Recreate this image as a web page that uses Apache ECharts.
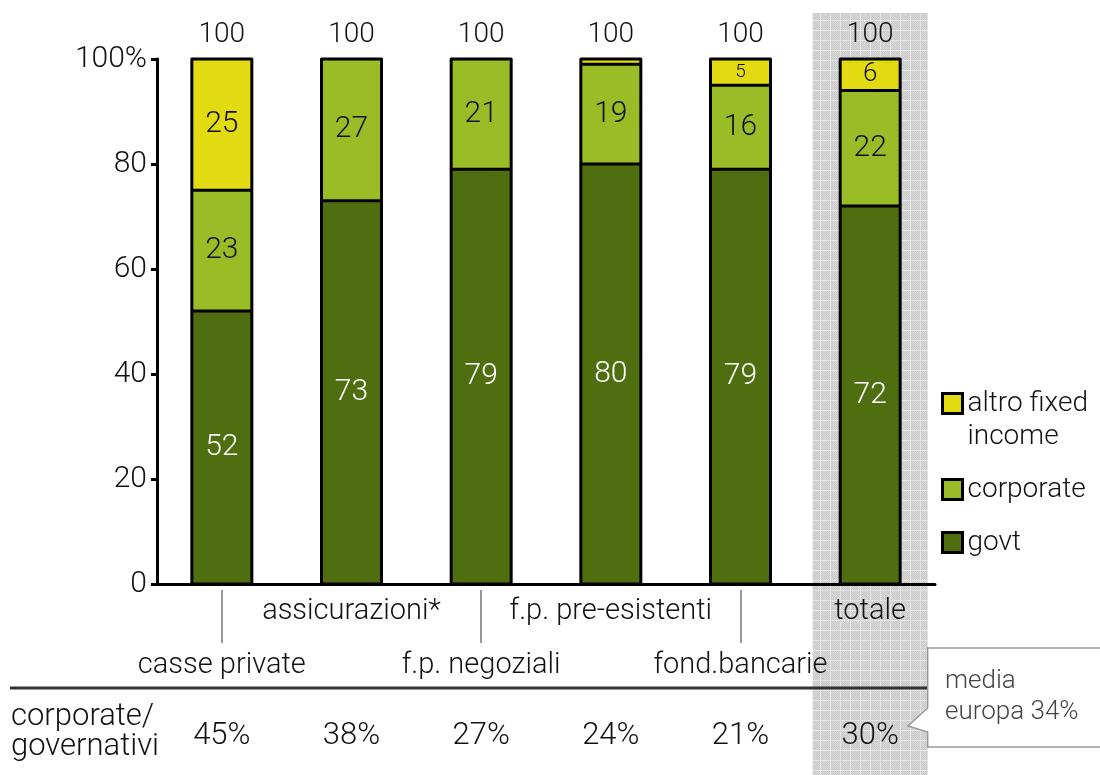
<!DOCTYPE html>
<html>
<head>
<meta charset="utf-8">
<script src="https://cdn.jsdelivr.net/npm/echarts@6/dist/echarts.min.js"></script>
<style>
  html, body { margin: 0; padding: 0; background: #fff; }
  #chart { width: 1100px; height: 775px; }
</style>
</head>
<body>
<div id="chart"></div>
<script>
// Composition of fixed-income holdings by investor type (% of total)
const categories = ['casse private', 'assicurazioni*', 'f.p. negoziali', 'f.p. pre-esistenti', 'fond.bancarie', 'totale'];
const govt       = [52, 73, 79, 80, 79, 72];
const corporate  = [23, 27, 21, 19, 16, 22];
const altro      = [25, 0, 0, 1, 5, 6];
const totals     = [100, 100, 100, 100, 100, 100];
// corporate / governativi ratio row
const ratioLabels = ['45%', '38%', '27%', '24%', '21%', '30%'];
const yTicks = [0, 20, 40, 60, 80, 100];

const FONT = 'Roboto';
const W = 300;
const GOVT_C = '#4f6e10';
const CORP_C = '#9abd27';
const ALTRO_C = '#e3db12';
const BAR_W = 60;

// textured grey fill for the "totale" highlight band
function makePattern() {
  const c = document.createElement('canvas');
  c.width = 10; c.height = 10;
  const g = c.getContext('2d');
  g.fillStyle = '#d8d8d8';
  g.fillRect(0, 0, 10, 10);
  for (let y = 0; y < 10; y++) {
    for (let x = 0; x < 10; x++) {
      if ((x + y) % 2 === 0) { g.fillStyle = '#cacaca'; g.fillRect(x, y, 1, 1); }
    }
  }
  g.fillStyle = '#e4e4e4';
  g.fillRect(0, 0, 10, 1);
  g.fillRect(0, 0, 1, 10);
  return c;
}

const chart = echarts.init(document.getElementById('chart'), null, { renderer: 'canvas' });

const segLabel = (color) => ({
  show: true,
  position: 'inside',
  color: color,
  fontFamily: FONT,
  fontWeight: W,
  fontSize: 30
});

const smallSeg = v => ({
  value: v,
  label: { show: v >= 5, fontSize: v < 6 ? 19 : (v < 10 ? 26 : 30) }
});

// black outlines of each stacked column, one stroke per boundary
function renderOutline(params, api) {
  const i = api.value(0);
  const parts = [api.value(1), api.value(2), api.value(3)];
  const total = parts[0] + parts[1] + parts[2];
  const base = api.coord([i, 0]);
  const top = api.coord([i, total]);
  const half = BAR_W / 2;
  const stroke = { stroke: '#000', lineWidth: 3, fill: null, lineJoin: 'round' };
  const children = [{
    type: 'rect',
    shape: { x: base[0] - half, y: top[1], width: BAR_W, height: base[1] - top[1] },
    style: stroke
  }];
  let cum = 0;
  for (let k = 0; k < parts.length - 1; k++) {
    cum += parts[k];
    if (parts[k] > 0 && cum < total) {
      const p = api.coord([i, cum]);
      children.push({
        type: 'line',
        shape: { x1: base[0] - half, y1: p[1], x2: base[0] + half, y2: p[1] },
        style: { stroke: '#000', lineWidth: 3 }
      });
    }
  }
  return { type: 'group', children: children };
}

chart.setOption({
  animation: false,
  grid: { left: 157, right: 165, top: 59, bottom: 191, containLabel: false },
  legend: {
    orient: 'vertical',
    left: 941,
    top: 354,
    padding: 0,
    itemWidth: 20,
    itemHeight: 20,
    itemGap: 20,
    icon: 'rect',
    selectedMode: false,
    itemStyle: { borderColor: '#000', borderWidth: 3 },
    data: ['altro fixed income', 'corporate', 'govt'],
    formatter: n => n === 'altro fixed income' ? '\naltro fixed\nincome' : n,
    textStyle: { fontFamily: FONT, fontWeight: W, fontSize: 28, lineHeight: 33, color: '#111' }
  },
  xAxis: [
    {
      type: 'category',
      data: categories,
      position: 'bottom',
      axisLine: { show: true, lineStyle: { color: '#000', width: 3 } },
      axisTick: { show: false },
      axisLabel: {
        interval: (i) => i % 2 === 1,
        margin: 13,
        fontFamily: FONT, fontWeight: W, fontSize: 29, color: '#111'
      }
    },
    {
      type: 'category',
      data: categories,
      position: 'bottom',
      offset: 6,
      axisLine: { show: false },
      axisTick: {
        show: true,
        alignWithLabel: true,
        interval: (i) => i % 2 === 0,
        length: 53,
        lineStyle: { color: '#777', width: 1.5 }
      },
      axisLabel: {
        interval: (i) => i % 2 === 0,
        margin: 61,
        fontFamily: FONT, fontWeight: W, fontSize: 29, color: '#111'
      }
    },
    {
      type: 'category',
      data: ratioLabels,
      position: 'bottom',
      offset: 152,
      axisLine: { show: false },
      axisTick: { show: false },
      axisLabel: {
        interval: 0,
        margin: 0,
        verticalAlign: 'middle',
        fontFamily: FONT, fontWeight: W, fontSize: 31, color: '#111'
      }
    }
  ],
  yAxis: {
    type: 'value',
    min: 0,
    max: 100,
    interval: 20,
    axisLine: { show: true, lineStyle: { color: '#000', width: 3 } },
    axisTick: { show: true, length: 6, lineStyle: { color: '#000', width: 3 } },
    splitLine: { show: false },
    axisLabel: {
      margin: 10,
      formatter: v => (v === yTicks[yTicks.length - 1] ? v + '%' : String(v)),
      fontFamily: FONT, fontWeight: W, fontSize: 30, color: '#111'
    }
  },
  series: [
    {
      type: 'bar', stack: 'mix', barWidth: BAR_W,
      name: 'govt',
      data: govt,
      itemStyle: { color: GOVT_C, borderWidth: 0 },
      label: segLabel('#fff')
    },
    {
      type: 'bar', stack: 'mix', barWidth: BAR_W,
      name: 'corporate',
      data: corporate,
      itemStyle: { color: CORP_C, borderWidth: 0 },
      label: segLabel('#111')
    },
    {
      type: 'bar', stack: 'mix', barWidth: BAR_W,
      name: 'altro fixed income',
      data: altro.map(smallSeg),
      itemStyle: { color: ALTRO_C, borderWidth: 0 },
      label: segLabel('#111')
    },
    {
      type: 'bar', stack: 'mix', barWidth: BAR_W,
      name: 'totale',
      data: totals.map(() => 0),
      itemStyle: { color: 'transparent', borderWidth: 0 },
      label: {
        show: true,
        position: 'top',
        distance: 10,
        formatter: p => String(totals[p.dataIndex]),
        fontFamily: FONT, fontWeight: W, fontSize: 28, color: '#111'
      }
    },
    {
      type: 'custom',
      name: 'outline',
      silent: true,
      z: 3,
      renderItem: renderOutline,
      encode: { x: 0, y: 1 },
      data: categories.map((c, i) => [i, govt[i], corporate[i], altro[i]])
    }
  ]
});

// highlight band behind the last category, table rule, row title and callout
const cx = chart.convertToPixel({ xAxisIndex: 0 }, categories[categories.length - 1]);
const bandHalf = 57.5;
chart.setOption({
  graphic: [
    {
      type: 'rect',
      z: -10,
      silent: true,
      shape: { x: cx - bandHalf, y: 13, width: bandHalf * 2, height: 775 - 13 },
      style: { fill: { image: makePattern(), repeat: 'repeat' } }
    },
    {
      type: 'line',
      z: 10,
      silent: true,
      shape: { x1: 10, y1: 688, x2: cx + bandHalf, y2: 688 },
      style: { stroke: '#333', lineWidth: 3 }
    },
    {
      type: 'text',
      z: 10,
      left: 11, top: 702,
      style: {
        text: 'corporate/\ngovernativi',
        fontFamily: FONT, fontWeight: W, fontSize: 31, lineHeight: 30, fill: '#111'
      }
    },
    {
      type: 'polygon',
      z: 10,
      silent: true,
      shape: {
        points: [
          [cx + bandHalf, 648], [1104, 648], [1104, 747], [cx + bandHalf, 747],
          [cx + bandHalf, 732], [908, 726], [cx + bandHalf, 708]
        ]
      },
      style: { fill: '#fff', stroke: '#999', lineWidth: 1.5 }
    },
    {
      type: 'text',
      z: 11,
      left: 945, top: 666,
      style: {
        text: 'media\neuropa 34%',
        fontFamily: FONT, fontWeight: W, fontSize: 26, lineHeight: 31, fill: '#444'
      }
    }
  ]
});
</script>
</body>
</html>
